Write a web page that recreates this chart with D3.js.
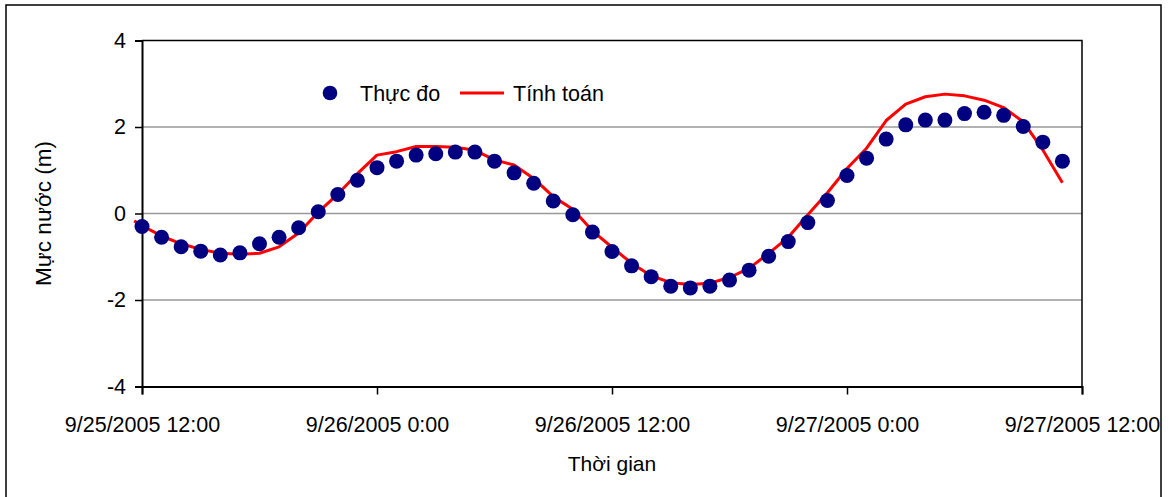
<!DOCTYPE html>
<html>
<head>
<meta charset="utf-8">
<script src="https://cdn.jsdelivr.net/npm/d3@7"></script>
<style>
  html, body { margin: 0; padding: 0; background: #fff; }
  svg { display: block; font-family: "Liberation Sans", Arial, sans-serif; }
</style>
</head>
<body>
<svg id="chart" width="1172" height="497"></svg>
<script>
// Hourly water level, starting 9/25/2005 12:00
const startTime = new Date(2005, 8, 25, 12, 0);

// Measured (Thực đo): one reading per hour, hours 0..47
const measuredHours = [0,1,2,3,4,5,6,7,8,9,10,11,12,13,14,15,16,17,18,19,20,21,22,23,
                       24,25,26,27,28,29,30,31,32,33,34,35,36,37,38,39,40,41,42,43,44,45,46,47];
const measuredLevels = [-0.30,-0.55,-0.77,-0.87,-0.96,-0.91,-0.70,-0.55,-0.33,0.04,0.44,0.77,
                        1.06,1.21,1.35,1.38,1.42,1.42,1.21,0.94,0.70,0.29,-0.03,-0.43,
                        -0.88,-1.21,-1.46,-1.68,-1.72,-1.68,-1.54,-1.31,-0.99,-0.65,-0.21,0.30,
                        0.88,1.28,1.72,2.05,2.16,2.16,2.31,2.34,2.27,2.01,1.65,1.21];

// Computed (Tính toán): model output, hours from the start time
const computedHours = [-0.4,0,1,2,3,4,5,6,7,8,9,10,11,12,13,14,15,16,17,18,19,20,21,22,23,
                       24,25,26,27,28,29,30,31,32,33,34,35,36,37,38,39,40,41,42,43,44,45,46,47];
const computedLevels = [-0.17,-0.28,-0.52,-0.70,-0.83,-0.92,-0.94,-0.92,-0.77,-0.45,0.03,0.45,0.92,
                        1.35,1.43,1.55,1.55,1.53,1.46,1.24,1.12,0.81,0.39,0.10,-0.40,
                        -0.78,-1.15,-1.44,-1.60,-1.64,-1.61,-1.48,-1.27,-0.92,-0.55,-0.03,0.48,
                        1.04,1.51,2.15,2.53,2.70,2.76,2.72,2.62,2.45,2.12,1.47,0.71];

// Axis ticks
const yTicks = [-4, -2, 0, 2, 4];
const yGrid = [-2, 0, 2];
const xTickHours = [0, 12, 24, 36, 48];
const xTickLabels = ["9/25/2005 12:00", "9/26/2005 0:00", "9/26/2005 12:00", "9/27/2005 0:00", "9/27/2005 12:00"];

const seriesNames = ["Thực đo", "Tính toán"];
const axisTitles = { x: "Thời gian", y: "Mực nước (m)" };

const toDate = h => new Date(startTime.getTime() + h * 3600 * 1000);

const svg = d3.select("#chart");
const plot = { left: 142, right: 1082, top: 40.5, bottom: 386.5 };

const x = d3.scaleTime()
  .domain([toDate(0), toDate(48)])
  .range([plot.left, plot.right]);
const y = d3.scaleLinear()
  .domain([-4, 4])
  .range([plot.bottom, plot.top]);

// Outer chart border
svg.append("rect")
  .attr("x", 6).attr("y", 5)
  .attr("width", 1155).attr("height", 500)
  .attr("fill", "#fff").attr("stroke", "#000").attr("stroke-width", 1.5);

// Horizontal gridlines
svg.append("g").selectAll("line").data(yGrid).join("line")
  .attr("x1", plot.left).attr("x2", plot.right)
  .attr("y1", d => y(d)).attr("y2", d => y(d))
  .attr("stroke", "#999").attr("stroke-width", 1.5);

// Plot-area frame (top and right)
svg.append("path")
  .attr("d", `M${plot.left},${plot.top}H${plot.right}V${plot.bottom}`)
  .attr("fill", "none").attr("stroke", "#000").attr("stroke-width", 1.5);

// Y axis
const yAxis = d3.axisLeft(y).tickValues(yTicks).tickSize(7).tickPadding(9)
  .tickFormat(d => String(d));
const gy = svg.append("g").attr("transform", `translate(${plot.left},0)`).call(yAxis);
gy.select(".domain").attr("stroke", "#000").attr("stroke-width", 2);
gy.selectAll(".tick line").attr("stroke", "#000").attr("stroke-width", 1.5);
gy.selectAll(".tick text").attr("font-size", 21.5).attr("fill", "#000")
  .attr("font-family", "Liberation Sans, Arial, sans-serif");

// X axis
const xAxis = d3.axisBottom(x).tickValues(xTickHours.map(toDate)).tickSize(8).tickPadding(22)
  .tickFormat((d, i) => xTickLabels[i]);
const gx = svg.append("g").attr("transform", `translate(0,${plot.bottom})`).call(xAxis);
gx.select(".domain").attr("stroke", "#000").attr("stroke-width", 2);
gx.selectAll(".tick line").attr("stroke", "#000").attr("stroke-width", 1.5);
gx.selectAll(".tick text").attr("font-size", 21.5).attr("fill", "#000")
  .attr("font-family", "Liberation Sans, Arial, sans-serif");

// Axis titles
svg.append("text")
  .attr("x", (plot.left + plot.right) / 2).attr("y", 471)
  .attr("text-anchor", "middle").attr("font-size", 21).attr("fill", "#000")
  .text(axisTitles.x);
svg.append("text")
  .attr("transform", `translate(51,${(plot.top + plot.bottom) / 2}) rotate(-90)`)
  .attr("text-anchor", "middle").attr("font-size", 22.5).attr("fill", "#000")
  .text(axisTitles.y);

// Computed line
const computed = computedHours.map((h, i) => ({ t: toDate(h), v: computedLevels[i] }));
svg.append("path")
  .datum(computed)
  .attr("fill", "none").attr("stroke", "#ff0000").attr("stroke-width", 3)
  .attr("stroke-linejoin", "round")
  .attr("d", d3.line().x(d => x(d.t)).y(d => y(d.v)));

// Measured points
const measured = measuredHours.map((h, i) => ({ t: toDate(h), v: measuredLevels[i] }));
svg.append("g").selectAll("circle").data(measured).join("circle")
  .attr("cx", d => x(d.t)).attr("cy", d => y(d.v)).attr("r", 7.5)
  .attr("fill", "#000080");

// Legend
const legend = svg.append("g");
legend.append("circle").attr("cx", 330).attr("cy", 93).attr("r", 7.3).attr("fill", "#000080");
legend.append("text").attr("x", 360).attr("y", 101).attr("font-size", 21.5).attr("fill", "#000")
  .text(seriesNames[0]);
legend.append("line").attr("x1", 460).attr("x2", 504).attr("y1", 93).attr("y2", 93)
  .attr("stroke", "#ff0000").attr("stroke-width", 3);
legend.append("text").attr("x", 513).attr("y", 101).attr("font-size", 21.5).attr("fill", "#000")
  .text(seriesNames[1]);
</script>
</body>
</html>
